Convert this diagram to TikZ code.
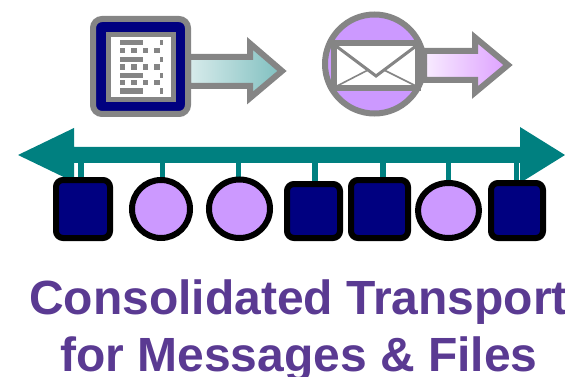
\documentclass[tikz,border=0pt]{standalone}
\usepackage{fontspec}
\setmainfont{Liberation Sans}
\usetikzlibrary{shapes.geometric,backgrounds}
\definecolor{navy}{HTML}{000080}
\definecolor{lilac}{HTML}{CC99FF}
\definecolor{tealc}{HTML}{008080}
\definecolor{grayc}{HTML}{858585}
\definecolor{titlec}{HTML}{5A3A92}
\definecolor{arrowteal}{HTML}{7FBFBF}
\definecolor{arrowlilac}{HTML}{DDA0FF}
\tikzset{
  x=1pt,y=-1pt,
  nodebox/.style={draw=black,fill=navy,line width=6pt,rounded corners=7pt,inner sep=0pt,outer sep=0pt},
  nodecirc/.style={draw=black,fill=lilac,line width=6pt,ellipse,inner sep=0pt,outer sep=0pt},
  stub/.style={draw=tealc,line width=5.5pt},
  graybar/.style={fill=grayc},
  iconline/.style={draw=grayc,miter limit=10},
  titletext/.style={text=titlec,font=\bfseries\fontsize{48}{54}\selectfont,inner sep=0pt,anchor=base west},
}
\begin{document}
\begin{tikzpicture}
\useasboundingbox (0,0) rectangle (565,377);
% spine
\fill[tealc] (18,155) -- (74,128) -- (74,147) -- (520,147) -- (520,127) -- (565,155) -- (520,183) -- (520,163) -- (74,163) -- (74,182) -- cycle;
\coordinate (spineA) at (81,163);
\coordinate (spineB) at (162.5,163);
\coordinate (spineC) at (238.5,163);
\coordinate (spineD) at (315,163);
\coordinate (spineE) at (383,163);
\coordinate (spineF) at (448.5,163);
\coordinate (spineG) at (516.5,163);
% stations
\node[nodebox,minimum width=54pt,minimum height=58pt] (n1) at (83,209) {};
\node[nodecirc,minimum width=58pt,minimum height=58pt] (n2) at (161,209) {};
\node[nodecirc,minimum width=61pt,minimum height=58.5pt] (n3) at (239.5,208.75) {};
\node[nodebox,minimum width=53pt,minimum height=54pt] (n4) at (313.5,211) {};
\node[nodebox,minimum width=57pt,minimum height=58pt] (n5) at (379.5,209) {};
\node[nodecirc,minimum width=61pt,minimum height=55pt] (n6) at (448.5,210.5) {};
\node[nodebox,minimum width=52pt,minimum height=55pt] (n7) at (517,210.5) {};
\begin{scope}[on background layer]
\draw[stub] (spineA) -- (spineA |- n1.north);
\draw[stub] (spineB) -- (spineB |- n2.north);
\draw[stub] (spineC) -- (spineC |- n3.north);
\draw[stub] (spineD) -- (spineD |- n4.north);
\draw[stub] (spineE) -- (spineE |- n5.north);
\draw[stub] (spineF) -- (spineF |- n6.north);
\draw[stub] (spineG) -- (spineG |- n7.north);
\end{scope}
% doc arrow
\draw[iconline,line width=6pt,left color=white!85!tealc,middle color=white!60!tealc,right color=arrowteal]
  (188,57) -- (250,57) -- (250,43.5) -- (282,71) -- (250,98) -- (250,86) -- (188,86) -- cycle;
% document icon
\draw[draw=grayc,fill=navy,line width=6pt,rounded corners=9pt] (93,19) rectangle (188,114);
\draw[draw=grayc,fill=white,line width=5pt] (108.5,34.5) rectangle (173.5,99.5);
\foreach \yy in {40,56.7,72.7,88.3}{ \fill[graybar] (119.5,\yy) rectangle +(23.2,5.5); \fill[graybar] (160,\yy) rectangle +(2.5,5.5);}
\foreach \yy in {47.7,64.3,80}{ \foreach \xx in {119.5,131,142.7,154}{ \fill[graybar] (\xx,\yy) rectangle +(5.5,5.5);}}
% mail arrow
\draw[iconline,line width=6pt,left color=white!80!arrowlilac,middle color=arrowlilac,right color=arrowlilac]
  (424,51) -- (475,51) -- (475,37.5) -- (508,65) -- (475,92.5) -- (475,80) -- (424,80) -- cycle;
% mail icon
\draw[draw=grayc,fill=lilac,line width=6pt] (374.5,64) circle (49.5);
\fill[white] (337,45) rectangle (416,88);
\draw[draw=grayc,line width=5.5pt] (334,43) -- (420,43) (334,88) -- (420,88) (334,40.25) -- (334,90.75) (418,40.25) -- (418,90.75);
\draw[draw=grayc,line width=3pt] (336,46) -- (376,76) -- (416,46);
\draw[draw=grayc,line width=1.6pt] (337,86) -- (369,69.5);
\draw[draw=grayc,line width=1.6pt] (416,86) -- (383,69.5);
% title
\node[titletext] (t1) at (29,314) {Consolidated Transport};
\node[titletext] (t2) at (60,371) {for Messages \& Files};
\end{tikzpicture}
\end{document}
